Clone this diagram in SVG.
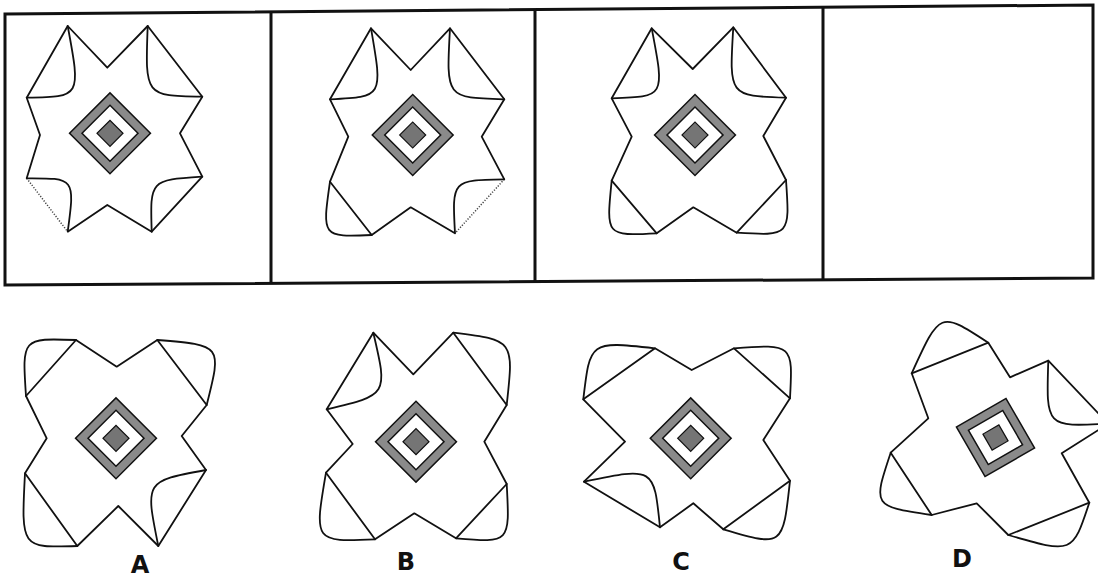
<svg xmlns="http://www.w3.org/2000/svg" xmlns:xlink="http://www.w3.org/1999/xlink" width="1098" height="578" viewBox="0 0 1098 578">
<style>
.o{fill:none;stroke:#111;stroke-width:1.8;stroke-linejoin:round}
.c{fill:none;stroke:#111;stroke-width:1.8;stroke-linecap:round}
.dot{fill:none;stroke:#444;stroke-width:1.5;stroke-dasharray:1.2 1.6}
.band{fill:#8a8a8a;stroke:#111;stroke-width:1.5}
.hole{fill:#fff;stroke:#111;stroke-width:1.5}
.core{fill:#757575;stroke:#111;stroke-width:1.2}
.frame{fill:none;stroke:#111;stroke-width:3}
.lbl{font-family:"DejaVu Sans",Verdana,sans-serif;font-weight:bold;font-size:24px;fill:#111;text-anchor:middle}
</style>
<defs>
<g id="sq">
<rect class="band" x="-28.6" y="-28.6" width="57.2" height="57.2"/>
<rect class="hole" x="-19.8" y="-19.8" width="39.6" height="39.6"/>
<rect class="core" x="-9.2" y="-9.2" width="18.4" height="18.4"/>
</g>
</defs>
<rect width="1098" height="578" fill="#fff"/>
<g id="frame">
<polygon class="frame" points="5,14 1093,5 1093,278 5,285"/>
<line class="frame" x1="271" y1="11.8" x2="271" y2="283.3"/>
<line class="frame" x1="535" y1="9.6" x2="535" y2="281.6"/>
<line class="frame" x1="823" y1="7.2" x2="823" y2="279.7"/>
</g>
<g id="q1">
<polyline class="o" points="26.7,178.3 40,135 26.7,97.7 67.7,26 107.3,67.7 147.7,26 202.3,96.7 180,133.3 202.3,176.7 151.7,231.7 107.3,205 67.7,231.7"/>
<line class="dot" x1="26.7" y1="178.3" x2="67.7" y2="231.7"/>
<path class="c" d="M67.7,26 C81,97 81,97 26.7,97.7"/>
<path class="c" d="M147.7,26 C145,96 145,96 202.3,96.7"/>
<path class="c" d="M26.7,178.3 C75,178 75,178 67.7,231.7"/>
<path class="c" d="M202.3,176.7 C150,180 150,180 151.7,231.7"/>
<use xlink:href="#sq" transform="translate(110,133.3) rotate(45)"/>
</g>
<g id="q2">
<polyline class="o" points="455,233.3 410.7,207.3 371.7,235 330,181.7 348.3,136.7 330,99.3 371,28.3 410.7,70 450,28.3 504.3,99.3 481.7,136.7 504.3,179.3"/>
<line class="dot" x1="504.3" y1="179.3" x2="455" y2="233.3"/>
<path class="c" d="M371,28.3 C383,97 383,97 330,99.3"/>
<path class="c" d="M450,28.3 C446,98 446,98 504.3,99.3"/>
<path class="c" d="M330,181.7 C322,237 322,237 371.7,235"/>
<path class="c" d="M504.3,179.3 C452,180 452,180 455,233.3"/>
<use xlink:href="#sq" transform="translate(412.7,135) rotate(45)"/>
</g>
<g id="q3">
<polygon class="o" points="651.7,28.3 692.7,69 733.3,27.3 786,97.7 763.3,136 786,180 736.7,232.7 693.3,207.3 656.7,233.3 611.7,180.7 631.7,136.7 611.7,98.3"/>
<path class="c" d="M651.7,28.3 C665,97 665,97 611.7,98.3"/>
<path class="c" d="M733.3,27.3 C729,96 729,96 786,97.7"/>
<path class="c" d="M611.7,180.7 C606,236 606,236 656.7,233.3"/>
<path class="c" d="M786,180 C790,236 790,236 736.7,232.7"/>
<use xlink:href="#sq" transform="translate(695,135) rotate(45)"/>
</g>
<g id="optA">
<polygon class="o" points="76,340 116.7,366.7 157.3,340 206.7,405 181.7,436 206,470 158.3,546 118.3,506 77.3,546 25,473.3 46.7,438.3 26,396"/>
<path class="c" d="M26,396 C22,338 22,338 76,340"/>
<path class="c" d="M157.3,340 C222,345 222,345 206.7,405"/>
<path class="c" d="M25,473.3 C21,548 21,548 77.3,546"/>
<path class="c" d="M206,470 C145,481 145,481 158.3,546"/>
<use xlink:href="#sq" transform="translate(116,438.3) rotate(45)"/>
<text class="lbl" x="140" y="573">A</text>
</g>
<g id="optB">
<polygon class="o" points="373.3,332.7 413.3,374.3 453.3,332.7 506.7,405 484.3,441.7 506.7,484 456,538.3 414.3,513.3 375,539.3 326,472.7 352.7,444 326.7,409.3"/>
<path class="c" d="M373.3,332.7 C388,395 388,395 326.7,409.3"/>
<path class="c" d="M453.3,332.7 C514,340 514,340 506.7,405"/>
<path class="c" d="M326,472.7 C314,542 314,542 375,539.3"/>
<path class="c" d="M506.7,484 C510,543 510,543 456,538.3"/>
<use xlink:href="#sq" transform="translate(416,441.7) rotate(45)"/>
<text class="lbl" x="406" y="570">B</text>
</g>
<g id="optC">
<polygon class="o" points="655,348.3 691.7,370 734,348.3 790,398.3 763.3,440 790,480.7 723.3,529.3 693.3,503.3 660,527.3 584,481.7 625,441.7 583.3,399.3"/>
<path class="c" d="M583.3,399.3 C590,341 590,341 655,348.3"/>
<path class="c" d="M734,348.3 C793,344 793,344 790,398.3"/>
<path class="c" d="M584,481.7 C654,467 654,467 660,527.3"/>
<path class="c" d="M790,480.7 C783,547 783,547 723.3,529.3"/>
<use xlink:href="#sq" transform="translate(690.7,438.3) rotate(45)"/>
<text class="lbl" x="681" y="570">C</text>
</g>
<g id="optD">
<polygon class="o" points="911.7,373.3 988.3,342.7 1010,377.3 1048.3,360.7 1108.2,423.7 1061.7,453.3 1089.3,502.7 1008.3,535 976.7,503.3 931.7,515 890.7,452.7 928.3,418.3"/>
<path class="c" d="M911.7,373.3 C940,311 940,311 988.3,342.7"/>
<path class="c" d="M1048.3,360.7 C1046,427 1046,427 1108.2,423.7"/>
<path class="c" d="M1089.3,502.7 C1072.6,553.7 1072.6,553.7 1008.3,535"/>
<path class="c" d="M931.7,515 C872.7,506.3 872.7,506.3 890.7,452.7"/>
<use xlink:href="#sq" transform="translate(995.5,437.5) rotate(-30)"/>
<text class="lbl" x="962" y="567">D</text>
</g>
</svg>
